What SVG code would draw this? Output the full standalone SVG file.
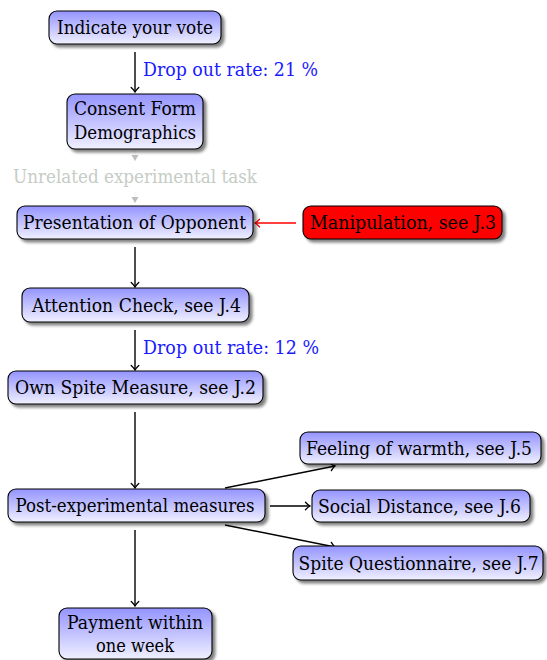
<svg xmlns="http://www.w3.org/2000/svg" width="547" height="660" viewBox="0 0 547 660">
<defs>
<linearGradient id="blue" x1="0" y1="0" x2="0" y2="1">
<stop offset="0" stop-color="#9494ff"/>
<stop offset="1" stop-color="#f0f0ff"/>
</linearGradient>
<filter id="shadow" x="-10%" y="-20%" width="130%" height="160%">
<feGaussianBlur in="SourceAlpha" stdDeviation="1.8"/>
<feOffset dx="3" dy="3" result="b"/>
<feComponentTransfer><feFuncA type="linear" slope="0.5"/></feComponentTransfer>
<feMerge><feMergeNode/><feMergeNode in="SourceGraphic"/></feMerge>
</filter>
<marker id="arr" markerUnits="userSpaceOnUse" markerWidth="12" markerHeight="12" refX="10" refY="6" orient="auto" overflow="visible">
<path d="M5.5 2.2 Q8 5 10 6 Q8 7 5.5 9.8" fill="none" stroke="#000" stroke-width="1.3" stroke-linecap="round"/>
</marker>
<marker id="arrRed" markerUnits="userSpaceOnUse" markerWidth="12" markerHeight="12" refX="10" refY="6" orient="auto" overflow="visible">
<path d="M5.5 2.2 Q8 5 10 6 Q8 7 5.5 9.8" fill="none" stroke="#ff0000" stroke-width="1.3" stroke-linecap="round"/>
</marker>
<marker id="arrGray" markerUnits="userSpaceOnUse" markerWidth="12" markerHeight="12" refX="10" refY="6" orient="auto" overflow="visible">
<path d="M4 2.5 L10 6 L4 9.5 Z" fill="#bdbdbd"/>
</marker>
</defs>
<style>
.box{fill:url(#blue);stroke:#000;stroke-width:1.1;filter:url(#shadow)}
.red{fill:#ff0000;stroke:#000;stroke-width:1.1;filter:url(#shadow)}
text{font-family:"DejaVu Serif","Liberation Serif",serif;font-size:18px;fill:#000}
.t{text-anchor:middle}
.lbl{fill:#1a1aff}
.gray{fill:#c5ccc5;text-anchor:middle}
.c{fill:none;stroke:#000;stroke-width:1.4;marker-end:url(#arr)}
.cr{fill:none;stroke:#ff0000;stroke-width:1.4;marker-end:url(#arrRed)}
.cg{fill:none;stroke:#f2f2f2;stroke-width:1;marker-end:url(#arrGray)}
</style>
<g id="connectors">
<line class="c" x1="135" y1="52" x2="135" y2="92"/>
<text class="lbl" x="143" y="76" textLength="175" lengthAdjust="spacingAndGlyphs">Drop out rate: 21 %</text>
<line class="cg" x1="135" y1="150" x2="135" y2="161"/>
<text class="gray" x="135" y="183" textLength="244" lengthAdjust="spacingAndGlyphs">Unrelated experimental task</text>
<line class="cg" x1="135" y1="192" x2="135" y2="203"/>
<line class="cr" x1="296" y1="223" x2="255" y2="223"/>
<line class="c" x1="135" y1="247" x2="135" y2="287"/>
<line class="c" x1="135" y1="330" x2="135" y2="370"/>
<text class="lbl" x="143" y="354" textLength="176" lengthAdjust="spacingAndGlyphs">Drop out rate: 12 %</text>
<line class="c" x1="135" y1="412" x2="135" y2="488"/>
<line class="c" x1="225" y1="488" x2="335" y2="466"/>
<line class="c" x1="270" y1="506" x2="310" y2="506"/>
<line class="c" x1="225" y1="525" x2="335" y2="547"/>
<line class="c" x1="135" y1="530" x2="135" y2="606"/>
</g>
<g id="vote"><rect class="box" x="49" y="11" width="172" height="33" rx="8"/><text class="t" x="135" y="34" textLength="156" lengthAdjust="spacingAndGlyphs">Indicate your vote</text></g>
<g id="consent"><rect class="box" x="67" y="94" width="136" height="55" rx="8"/><text class="t" x="135" y="115" textLength="122" lengthAdjust="spacingAndGlyphs">Consent Form</text><text class="t" x="135" y="139" textLength="122" lengthAdjust="spacingAndGlyphs">Demographics</text></g>
<g id="presentation"><rect class="box" x="17" y="206" width="236" height="33" rx="8"/><text class="t" x="134.5" y="229" textLength="223" lengthAdjust="spacingAndGlyphs">Presentation of Opponent</text></g>
<g id="manipulation"><rect class="red" x="303" y="206" width="199" height="33" rx="8"/><text class="t" x="403" y="229" textLength="186" lengthAdjust="spacingAndGlyphs">Manipulation, see J.3</text></g>
<g id="attention"><rect class="box" x="22" y="288" width="227" height="34" rx="8"/><text class="t" x="136.5" y="311.5" textLength="209" lengthAdjust="spacingAndGlyphs">Attention Check, see J.4</text></g>
<g id="ownspite"><rect class="box" x="8" y="371" width="255" height="33" rx="8"/><text class="t" x="135.5" y="394" textLength="241" lengthAdjust="spacingAndGlyphs">Own Spite Measure, see J.2</text></g>
<g id="post"><rect class="box" x="8" y="489" width="257" height="33" rx="8"/><text class="t" x="135" y="512" textLength="239" lengthAdjust="spacingAndGlyphs">Post-experimental measures</text></g>
<g id="warmth"><rect class="box" x="300" y="432" width="241" height="32" rx="8"/><text class="t" x="419" y="454.5" textLength="226" lengthAdjust="spacingAndGlyphs">Feeling of warmth, see J.5</text></g>
<g id="social"><rect class="box" x="312" y="490" width="218" height="32" rx="8"/><text class="t" x="419.5" y="512.5" textLength="203" lengthAdjust="spacingAndGlyphs">Social Distance, see J.6</text></g>
<g id="spiteq"><rect class="box" x="293" y="546" width="250" height="34" rx="8"/><text class="t" x="418.5" y="569.5" textLength="240" lengthAdjust="spacingAndGlyphs">Spite Questionnaire, see J.7</text></g>
<g id="payment"><rect class="box" x="59" y="608" width="153" height="51" rx="8"/><text class="t" x="135" y="629" textLength="136" lengthAdjust="spacingAndGlyphs">Payment within</text><text class="t" x="135" y="652" textLength="78" lengthAdjust="spacingAndGlyphs">one week</text></g>
</svg>
